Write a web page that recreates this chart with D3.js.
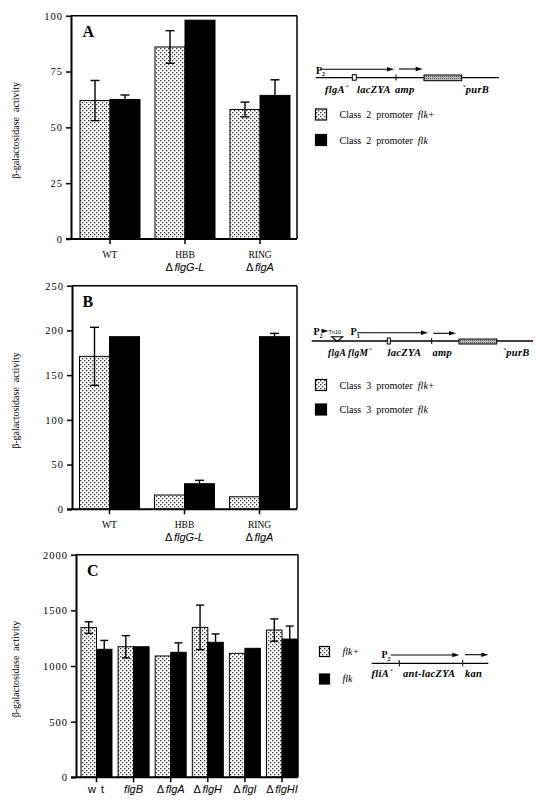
<!DOCTYPE html>
<html><head><meta charset="utf-8">
<script src="https://cdn.jsdelivr.net/npm/d3@7"></script>
<style>body{margin:0;background:#fff} svg{display:block}</style>
</head><body>
<script>
// ---------------- DATA ----------------
const catsA = ["WT", "HBB", "RING"];
const subA = ["", "ΔflgG-L", "ΔflgA"];
const flkPlusA = [62, 86, 58];
const flkPlusErrA = [9, 7.3, 3.3];
const flkA = [62.5, 98, 64.3];
const flkErrA = [2, 0, 7];
const ticksA = [0, 25, 50, 75, 100];

const catsB = ["WT", "HBB", "RING"];
const subB = ["", "ΔflgG-L", "ΔflgA"];
const flkPlusB = [171, 16, 14];
const flkPlusErrB = [32.5, 0, 0];
const flkB = [193, 28.6, 193];
const flkErrB = [0, 3.8, 3.7];
const ticksB = [0, 50, 100, 150, 200, 250];

const catsC = ["w t", "flgB", "ΔflgA", "ΔflgH", "ΔflgI", "ΔflgHI"];
const flkPlusC = [1345, 1173, 1090, 1347, 1114, 1323];
const flkPlusErrC = [52, 100, 0, 200, 0, 100];
const flkC = [1150, 1173, 1123, 1213, 1159, 1242];
const flkErrC = [80, 0, 85, 75, 0, 117];
const ticksC = [0, 500, 1000, 1500, 2000];

const legendA = ["Class 2 promoter ", "Class 2 promoter "];
const legendB = ["Class 3 promoter ", "Class 3 promoter "];
const legendC = ["", ""];
const legendItal = ["flk+", "flk"];
const yLabel = "β-galactosidase  activity";

// ---------------- SETUP ----------------
const W = 541, H = 803;
const svg = d3.select("body").append("svg").attr("width", W).attr("height", H);
const defs = svg.append("defs");
const pat = defs.append("pattern").attr("id", "dots").attr("patternUnits", "userSpaceOnUse")
  .attr("width", 4).attr("height", 4);
pat.append("rect").attr("width", 4).attr("height", 4).attr("fill", "#fff");
pat.append("rect").attr("x", 0).attr("y", 0).attr("width", 1.3).attr("height", 1.3).attr("fill", "#333");
pat.append("rect").attr("x", 2).attr("y", 2).attr("width", 1.3).attr("height", 1.3).attr("fill", "#333");
const pat2 = defs.append("pattern").attr("id", "hatch").attr("patternUnits", "userSpaceOnUse")
  .attr("width", 2).attr("height", 2);
pat2.append("rect").attr("width", 2).attr("height", 2).attr("fill", "#bbb");
pat2.append("rect").attr("width", 1).attr("height", 1).attr("fill", "#555");

const SERIF = "'Liberation Serif', 'DejaVu Serif', serif";
const SANS = "'Liberation Sans', Arial, sans-serif";

function geneText(sel, label) {
  if (label.startsWith("Δ")) {
    sel.append("tspan").text("Δ").style("font-style", "normal");
    sel.append("tspan").attr("dx", 1.5).text(label.slice(1)).style("font-style", "italic");
  } else if (label === "w t") {
    sel.append("tspan").text(label).style("font-style", "normal").attr("letter-spacing", 1);
  } else {
    sel.append("tspan").text(label).style("font-style", "italic");
  }
}

function panel(cfg) {
  const g = svg.append("g");
  const y = d3.scaleLinear().domain([0, cfg.max]).range([cfg.yb, cfg.yt]);
  const x = d3.scaleBand().domain(cfg.cats).range(cfg.xr).paddingInner(cfg.pad).paddingOuter(0);
  const xs = d3.scaleBand().domain([0, 1]).range([0, x.bandwidth()]);
  const series = [
    { vals: cfg.s1, errs: cfg.e1, fill: "url(#dots)", stroke: "#000" },
    { vals: cfg.s2, errs: cfg.e2, fill: "#000", stroke: "#000" }
  ];
  series.forEach((s, si) => {
    g.selectAll(null).data(cfg.cats).enter().append("rect")
      .attr("x", d => x(d) + xs(si))
      .attr("width", xs.bandwidth())
      .attr("y", (d, i) => y(s.vals[i]))
      .attr("height", (d, i) => y(0) - y(s.vals[i]))
      .attr("fill", s.fill).attr("stroke", s.stroke).attr("stroke-width", 1);
  });
  series.forEach((s, si) => {
    cfg.cats.forEach((c, i) => {
      const e = s.errs[i];
      if (!e) return;
      const cx = x(c) + xs(si) + xs.bandwidth() / 2;
      const v = s.vals[i];
      const hw = cfg.cap;
      const eg = g.append("g").attr("stroke", "#000").attr("stroke-width", 1.4);
      eg.append("line").attr("x1", cx).attr("x2", cx).attr("y1", y(v - e)).attr("y2", y(v + e));
      eg.append("line").attr("x1", cx - hw).attr("x2", cx + hw).attr("y1", y(v + e)).attr("y2", y(v + e));
      eg.append("line").attr("x1", cx - hw).attr("x2", cx + hw).attr("y1", y(v - e)).attr("y2", y(v - e));
    });
  });
  g.append("line").attr("x1", cfg.ax).attr("x2", cfg.right).attr("y1", y(cfg.max)).attr("y2", y(cfg.max))
    .attr("stroke", "#000").attr("stroke-width", 1.5);
  g.append("line").attr("x1", cfg.right).attr("x2", cfg.right).attr("y1", y(cfg.max)).attr("y2", y(0))
    .attr("stroke", "#000").attr("stroke-width", 1.5);
  g.append("line").attr("x1", cfg.ax - 5).attr("x2", cfg.right).attr("y1", y(0)).attr("y2", y(0))
    .attr("stroke", "#000").attr("stroke-width", 2);
  const ya = g.append("g").attr("transform", `translate(${cfg.ax},0)`)
    .call(d3.axisLeft(y).tickValues(cfg.ticks).tickFormat(d3.format("d"))
      .tickSize(5).tickSizeOuter(0).tickPadding(3));
  ya.select(".domain").attr("stroke-width", 2);
  ya.selectAll(".tick line").attr("stroke-width", 1.5);
  ya.selectAll(".tick text").style("font-family", SERIF).style("font-size", "10.5px")
    .attr("letter-spacing", 1).attr("fill", "#000");
  const xa = g.append("g").attr("transform", `translate(0,${y(0)})`)
    .call(d3.axisBottom(x).tickSize(5).tickSizeOuter(0).tickFormat(""));
  xa.select(".domain").remove();
  xa.selectAll(".tick line").attr("stroke-width", 1.5);
  cfg.cats.forEach((c, i) => {
    const cx = x(c) + x.bandwidth() / 2;
    if (cfg.sub) {
      g.append("text").attr("x", cx).attr("y", cfg.lab1).attr("text-anchor", "middle")
        .style("font-family", SERIF).style("font-size", "9.5px").text(c);
      if (cfg.sub[i]) {
        const t = g.append("text").attr("x", cx).attr("y", cfg.lab2).attr("text-anchor", "middle")
          .style("font-family", SANS).style("font-size", "11px");
        geneText(t, cfg.sub[i]);
      }
    } else {
      const t = g.append("text").attr("x", cx).attr("y", cfg.lab1).attr("text-anchor", "middle")
        .style("font-family", SANS).style("font-size", "11px");
      geneText(t, c);
    }
  });
  g.append("text").attr("transform", `translate(19,${(y(0) + y(cfg.max)) / 2 + 3}) rotate(-90)`)
    .attr("text-anchor", "middle").style("font-family", SERIF).style("font-size", "10px")
    .style("white-space", "pre").attr("xml:space", "preserve").text(yLabel);
  g.append("text").attr("x", cfg.letterX).attr("y", cfg.letterY)
    .style("font-family", SERIF).style("font-size", "16px").style("font-weight", "bold").text(cfg.letter);
}

panel({ cats: catsA, sub: subA, s1: flkPlusA, e1: flkPlusErrA, s2: flkA, e2: flkErrA,
  max: 100, ticks: ticksA, yb: 239, yt: 15.7, xr: [80, 290], pad: 0.2, ax: 71, right: 297,
  cap: 4.5, lab1: 257.5, lab2: 270.5, letter: "A", letterX: 82.5, letterY: 37 });
panel({ cats: catsB, sub: subB, s1: flkPlusB, e1: flkPlusErrB, s2: flkB, e2: flkErrB,
  max: 250, ticks: ticksB, yb: 509.3, yt: 285.7, xr: [79.5, 289.5], pad: 0.2, ax: 72, right: 297,
  cap: 4.5, lab1: 528, lab2: 541, letter: "B", letterX: 82.5, letterY: 306.5 });
panel({ cats: catsC, sub: null, s1: flkPlusC, e1: flkPlusErrC, s2: flkC, e2: flkErrC,
  max: 2000, ticks: ticksC, yb: 777.3, yt: 554.7, xr: [81, 297.5], pad: 0.165, ax: 76, right: 298,
  cap: 4, lab1: 793, letter: "C", letterX: 87, letterY: 576 });

// ---------------- LEGENDS ----------------
function legend(x0, ys, texts, sq, tx, fontSize) {
  texts.forEach((t, i) => {
    svg.append("rect").attr("x", x0).attr("y", ys[i]).attr("width", sq).attr("height", sq)
      .attr("fill", i === 0 ? "url(#dots)" : "#000").attr("stroke", "#000").attr("stroke-width", 1.2);
    const te = svg.append("text").attr("x", tx).attr("y", ys[i] + sq - 2)
      .style("font-family", SERIF).style("font-size", fontSize + "px").attr("xml:space", "preserve");
    te.append("tspan").text(t.replace(/ /g, "  "));
    te.append("tspan").style("font-style", "italic").text(legendItal[i]);
  });
}
legend(315.5, [109, 134.5], legendA, 11, 339.5, 10);
legend(315.5, [379.5, 404], legendB, 11, 339.5, 10);
legend(319.5, [646.5, 674], legendC, 10, 342.5, 10);

// ---------------- GENE DIAGRAMS ----------------
function hline(x1, x2, y, w) {
  svg.append("line").attr("x1", x1).attr("x2", x2).attr("y1", y).attr("y2", y)
    .attr("stroke", "#000").attr("stroke-width", w || 1.3);
}
function vtick(x, y1, y2) {
  svg.append("line").attr("x1", x).attr("x2", x).attr("y1", y1).attr("y2", y2)
    .attr("stroke", "#000").attr("stroke-width", 1);
}
function arrow(x1, x2, y) {
  hline(x1, x2 - 4, y, 1.1);
  svg.append("path").attr("d", `M${x2 - 7},${y - 2.3}L${x2},${y}L${x2 - 7},${y + 2.3}Z`).attr("fill", "#000");
}
function box(x1, x2, y1, y2, fill) {
  svg.append("rect").attr("x", x1).attr("y", y1).attr("width", x2 - x1).attr("height", y2 - y1)
    .attr("fill", fill).attr("stroke", "#000").attr("stroke-width", 1);
}
function glabel(x, y, t, fs) {
  svg.append("text").attr("x", x).attr("y", y).style("font-family", SERIF).style("font-size", (fs || 10.5) + "px")
    .style("font-weight", "bold").style("font-style", "italic").attr("letter-spacing", 0.3).text(t);
}
function promoter(x, y, n) {
  const t = svg.append("text").attr("x", x).attr("y", y).style("font-family", SERIF)
    .style("font-size", "10px").style("font-weight", "bold");
  t.append("tspan").text("P");
  t.append("tspan").attr("dy", 2.5).style("font-size", "6px").text(n);
}

// A diagram
promoter(316, 73.5, "2");
arrow(321, 394, 69.3);
hline(315.7, 499, 77.7);
box(352.3, 356.3, 74.7, 80.2, "#fff");
vtick(396, 74.5, 80.5);
arrow(399, 422.7, 69);
box(424, 461.7, 75, 80.7, "url(#hatch)");
glabel(325, 92.5, "flgA´");
glabel(357, 92.5, "lacZYA");
glabel(395, 92.5, "amp");
glabel(462, 92.5, "`purB");

// B diagram
promoter(313.5, 335, "2");
arrow(321.5, 328.5, 331);
svg.append("text").attr("x", 328.5).attr("y", 333.5).style("font-family", SANS).style("font-size", "5.5px").text("Tn10");
svg.append("path").attr("d", "M331.7,336.7L342.7,336.7L337.2,341.5Z").attr("fill", "#fff").attr("stroke", "#000").attr("stroke-width", 1.1);
promoter(350.5, 335, "3");
arrow(357, 428, 332.7);
hline(311.7, 533, 341);
box(387.3, 390.3, 338, 344, "#fff");
vtick(431.7, 338, 344);
arrow(433.3, 456, 333.3);
box(459, 496.7, 339, 344, "url(#hatch)");
glabel(328, 356, "flgA", 9.5);
glabel(348, 356, "flgM´", 9.5);
glabel(387.5, 356, "lacZYA");
glabel(432.5, 356, "amp");
glabel(502.5, 356, "`purB");

// C diagram
promoter(381.5, 658, "2");
arrow(390.7, 459.3, 655);
arrow(465, 488.3, 654.7);
hline(371.7, 488.3, 663.3);
vtick(399.3, 660, 666.5);
vtick(462.7, 660, 666.5);
glabel(371.5, 676.7, "fliA´");
glabel(403, 676.7, "ant-lacZYA");
glabel(465, 676.7, "kan");
</script>
</body></html>
